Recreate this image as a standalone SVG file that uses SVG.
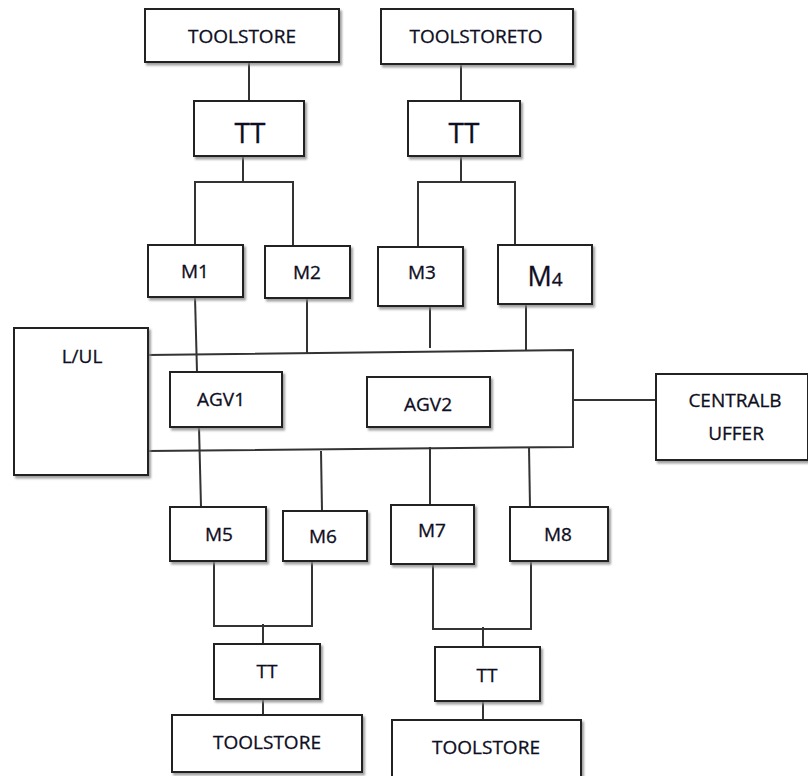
<svg xmlns="http://www.w3.org/2000/svg" width="808" height="776" viewBox="0 0 808 776">
<style>
.box{fill:#fff;stroke:#222;stroke-width:2;filter:url(#sh)}
.ln{fill:none;stroke:#333;stroke-width:2}
text{font-family:"Open Sans","Liberation Sans",sans-serif;fill:#0e0e22;text-anchor:middle;font-size:19px;stroke:#0e0e22;stroke-width:0.3}
</style>
<defs>
<filter id="sh" x="-10%" y="-10%" width="130%" height="130%">
<feDropShadow dx="2" dy="2.5" stdDeviation="1" flood-color="#888" flood-opacity="0.8"/>
</filter>
</defs>
<g id="connectors">
<path class="ln" d="M249,62 V101"/>
<path class="ln" d="M243,156 V182 M195,247 V182 H293 V247"/>
<path class="ln" d="M461,64 V101"/>
<path class="ln" d="M461,156 V182 M418,247 V182 H515 V245"/>
<path class="ln" d="M148,355 L573,350 L573,447 L148,451"/>
<path class="ln" d="M195,297 L197,372"/>
<path class="ln" d="M307,298 V353"/>
<path class="ln" d="M430,306 V348"/>
<path class="ln" d="M526,304 V350"/>
<path class="ln" d="M573,400 H656"/>
<path class="ln" d="M199,427 L201,507"/>
<path class="ln" d="M321,451 L322,511"/>
<path class="ln" d="M430,447 V505"/>
<path class="ln" d="M529,447 L530,507"/>
<path class="ln" d="M214,561 V626 H312 V561"/>
<path class="ln" d="M263,624 V644 M263,699 V715"/>
<path class="ln" d="M433,564 V629 H531 V561"/>
<path class="ln" d="M483,627 V647 M483,701 V720"/>
</g>
<g id="toolstore1"><rect class="box" x="145" y="9" width="194" height="53"/><text x="242" y="43">TOOLSTORE</text></g>
<g id="toolstore2"><rect class="box" x="381" y="9" width="192" height="55"/><text x="476" y="43">TOOLSTORETO</text></g>
<g id="tt1"><rect class="box" x="194" y="101" width="110" height="55"/><text x="250" y="143" style="font-size:28px">TT</text></g>
<g id="tt2"><rect class="box" x="408" y="101" width="112" height="55"/><text x="464" y="143" style="font-size:28px">TT</text></g>
<g id="m1"><rect class="box" x="148" y="245" width="95" height="52"/><text x="195" y="278">M1</text></g>
<g id="m2"><rect class="box" x="265" y="246" width="85" height="52"/><text x="307" y="279">M2</text></g>
<g id="m3"><rect class="box" x="378" y="247" width="85" height="59"/><text x="422" y="279">M3</text></g>
<g id="m4"><rect class="box" x="498" y="245" width="94" height="59"/><text x="545" y="286"><tspan style="font-size:27px">M</tspan><tspan style="font-size:19px">4</tspan></text></g>
<g id="lul"><rect class="box" x="14" y="328" width="134" height="147"/><text x="82" y="363">L/UL</text></g>
<g id="agv1"><rect class="box" x="170" y="372" width="112" height="55"/><text x="221" y="406">AGV1</text></g>
<g id="agv2"><rect class="box" x="367" y="377" width="123" height="50"/><text x="428" y="411">AGV2</text></g>
<g id="centralbuffer"><rect class="box" x="656" y="374" width="152" height="86"/><text x="735" y="407">CENTRALB</text><text x="736" y="440">UFFER</text></g>
<g id="m5"><rect class="box" x="170" y="507" width="96" height="54"/><text x="219" y="541">M5</text></g>
<g id="m6"><rect class="box" x="283" y="511" width="84" height="50"/><text x="323" y="543">M6</text></g>
<g id="m7"><rect class="box" x="391" y="505" width="83" height="59"/><text x="432" y="537">M7</text></g>
<g id="m8"><rect class="box" x="510" y="507" width="98" height="54"/><text x="558" y="541">M8</text></g>
<g id="tt3"><rect class="box" x="214" y="644" width="106" height="55"/><text x="267" y="678">TT</text></g>
<g id="tt4"><rect class="box" x="435" y="647" width="105" height="54"/><text x="487" y="682">TT</text></g>
<g id="toolstore3"><rect class="box" x="172" y="715" width="190" height="57"/><text x="267" y="749">TOOLSTORE</text></g>
<g id="toolstore4"><rect class="box" x="392" y="720" width="189" height="60"/><text x="486" y="754">TOOLSTORE</text></g>
</svg>
